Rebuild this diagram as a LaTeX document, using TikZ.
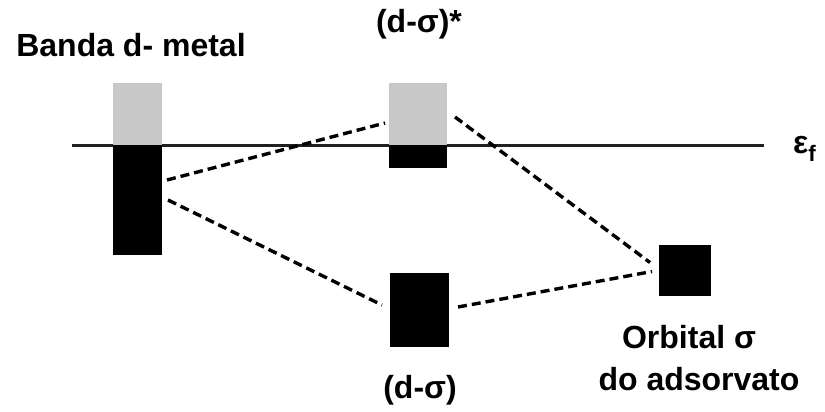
\documentclass[tikz,border=0pt]{standalone}
\usepackage{fontspec}
\setmainfont{Liberation Sans}
\usetikzlibrary{calc}
\definecolor{bandgrey}{HTML}{C8C8C8}
\definecolor{linegrey}{HTML}{202020}
\begin{document}
\begin{tikzpicture}[x=1pt,y=-1pt,
  fillblack/.style={draw=none,fill=black,inner sep=0pt,outer sep=0pt},
  fillgrey/.style={draw=none,fill=bandgrey,inner sep=0pt,outer sep=0pt},
  lbl/.style={font=\fontsize{32}{36}\selectfont\bfseries,inner sep=0pt,align=center},
  conn/.style={line width=3.4pt,dash pattern=on 9pt off 5pt,black}]
\useasboundingbox (0,0) rectangle (825,412);
% Fermi level
\coordinate (fl) at (72,145);
\coordinate (fr) at (764,145);
\draw[line width=3pt,linegrey] (fl) -- (fr);
\node[lbl,anchor=west] (ef) at (793,149) {ε\textsubscript{f}};
% left band
\node[fillgrey,minimum width=49pt,minimum height=62pt] (lg) at (137.5,114) {};
\node[fillblack,minimum width=49pt,minimum height=110pt] (lb) at (137.5,200) {};
% middle antibonding
\node[fillgrey,minimum width=58pt,minimum height=62pt] (mg) at (418,114) {};
\node[fillblack,minimum width=58pt,minimum height=23pt] (mb) at (418,156.5) {};
% middle bonding
\node[fillblack,minimum width=59pt,minimum height=74pt] (bb) at (419.5,310) {};
% adsorbate orbital
\node[fillblack,minimum width=52pt,minimum height=51pt] (ad) at (685,270.5) {};
% labels
\node[lbl] (t1) at (131,45) {Banda d- metal};
\node[lbl] (t2) at (419,24) {(d-σ)*};
\node[lbl] (t3) at (420,390) {(d-σ)};
\node[lbl] (t4) at (689,337) {Orbital σ};
\node[lbl] (t5) at (699,379) {do adsorvato};
% connectors
\draw[conn] ([xshift=5pt,yshift=20pt]lb.east) -- ([xshift=-4pt,yshift=-9pt]mg.west);
\draw[conn] ([xshift=6pt]lb.east) -- ([xshift=-8pt,yshift=5pt]bb.west);
\draw[conn] ([xshift=8pt,yshift=-3pt]mg.east) -- ([xshift=-9pt,yshift=8pt]ad.west);
\draw[conn] ([xshift=9pt,yshift=3pt]bb.east) -- ([xshift=-7pt,yshift=-1pt]ad.west);
\end{tikzpicture}
\end{document}
